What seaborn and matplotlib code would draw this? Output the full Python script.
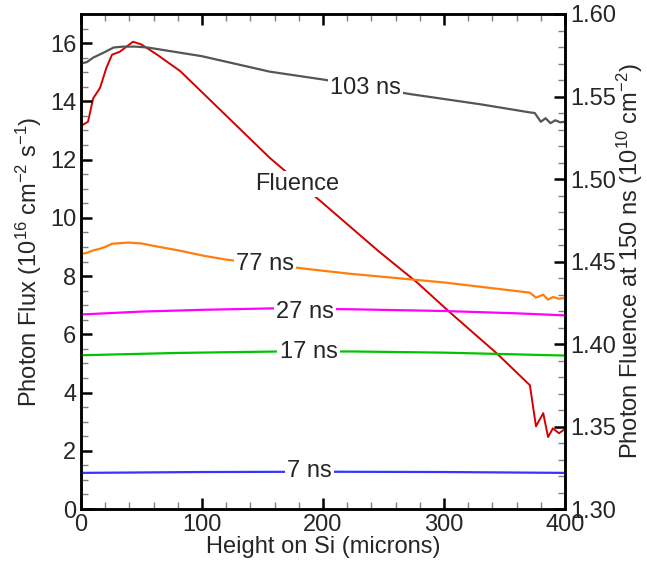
import pandas as pd
import matplotlib
matplotlib.use("Agg")
import matplotlib.pyplot as plt
import seaborn as sns
from matplotlib.ticker import MultipleLocator, FormatStrFormatter

sns.set_theme(style="ticks")
plt.rcParams['font.family'] = ['Liberation Sans', 'DejaVu Sans']
plt.rcParams['mathtext.fontset'] = 'custom'
plt.rcParams['mathtext.rm'] = 'Liberation Sans'
plt.rcParams['mathtext.it'] = 'Liberation Sans:italic'
plt.rcParams.update({'axes.edgecolor': 'black', 'axes.linewidth': 1.8})

# ---- data ----
x_103 = [0, 5, 10, 15, 20, 27, 35, 45, 55, 70, 100, 156, 200, 272, 330, 371, 375, 380, 384, 388, 392, 396, 400]
y_103 = [15.3, 15.35, 15.5, 15.6, 15.7, 15.85, 15.88, 15.88, 15.85, 15.75, 15.55, 15.02, 14.75, 14.25, 13.9, 13.62, 13.6, 13.3, 13.42, 13.25, 13.35, 13.28, 13.3]

x_77 = [0, 5, 10, 15.7, 20, 25.6, 39, 50, 59.5, 82, 101, 120.7, 183.5, 222, 300, 371, 376, 382, 386, 390, 395, 400]
y_77 = [8.75, 8.8, 8.88, 8.94, 9.0, 9.11, 9.15, 9.12, 9.04, 8.87, 8.7, 8.56, 8.26, 8.08, 7.78, 7.43, 7.26, 7.36, 7.19, 7.28, 7.22, 7.25]

x_27 = [0, 50, 100, 158, 222, 300, 360, 400]
y_27 = [6.68, 6.78, 6.84, 6.89, 6.86, 6.8, 6.72, 6.65]

x_17 = [0, 80, 164, 225, 300, 400]
y_17 = [5.28, 5.36, 5.41, 5.41, 5.37, 5.27]

x_7 = [0, 100, 200, 300, 400]
y_7 = [1.24, 1.27, 1.28, 1.27, 1.24]

# fluence at 150 ns (10^10 cm^-2), right axis
x_fl = [0, 5.8, 10, 15.7, 21, 25.6, 32, 43, 50, 63, 82, 120, 156, 200, 245.5, 277.7, 305, 343.8, 371, 376, 382, 386, 390, 395, 400]
y_fl = [1.5322, 1.5347, 1.5488, 1.5552, 1.5674, 1.5753, 1.5771, 1.5832, 1.5815, 1.5753, 1.5654, 1.5384, 1.5128, 1.4853, 1.4565, 1.4373, 1.4191, 1.3942, 1.3750, 1.3501, 1.3581, 1.3436, 1.3489, 1.3459, 1.3485]

series = [("103 ns", x_103, y_103, "#555555"),
          ("77 ns", x_77, y_77, "#ff7f0e"),
          ("27 ns", x_27, y_27, "#ff00ff"),
          ("17 ns", x_17, y_17, "#00c400"),
          ("7 ns", x_7, y_7, "#3535ff")]

labels_pos = {"103 ns": (235, 14.45), "77 ns": (152, 8.43), "27 ns": (185, 6.78),
              "17 ns": (188, 5.38), "7 ns": (189, 1.30)}

fs = 17
fig, ax = plt.subplots(figsize=(6.47, 5.73), dpi=100)
fig.subplots_adjust(left=81/647, right=565/647, bottom=1-509/573, top=1-14/573)

for name, xs, ys, c in series:
    sns.lineplot(x=xs, y=ys, ax=ax, color=c, lw=1.6, zorder=2)
    tx, ty = labels_pos[name]
    ax.text(tx, ty, name, ha="center", va="center", fontsize=fs, zorder=5,
            bbox=dict(facecolor="white", edgecolor="none", pad=1.5))
ax.text(178.5, 11.17, "Fluence", ha="center", va="center", fontsize=fs, zorder=5,
        bbox=dict(facecolor="white", edgecolor="none", pad=1.5))

ax.set_xlim(0, 400)
ax.set_ylim(0, 17)
ax.xaxis.set_major_locator(MultipleLocator(100))
ax.xaxis.set_minor_locator(MultipleLocator(20))
ax.yaxis.set_major_locator(MultipleLocator(2))
ax.yaxis.set_minor_locator(MultipleLocator(0.5))

ax2 = ax.twinx()
sns.lineplot(x=x_fl, y=y_fl, ax=ax2, color="#d40000", lw=1.4, zorder=2)
ax2.set_ylim(1.30, 1.60)
ax2.yaxis.set_major_locator(MultipleLocator(0.05))
ax2.yaxis.set_minor_locator(MultipleLocator(0.01))
ax2.yaxis.set_major_formatter(FormatStrFormatter('%.2f'))

ax.set_zorder(ax2.get_zorder() + 1)
ax.patch.set_visible(False)

ax.set_xlabel("Height on Si (microns)", fontsize=fs, labelpad=0)
ax.set_ylabel(r"Photon Flux (10$^{16}$ cm$^{-2}$ s$^{-1}$)", fontsize=fs, labelpad=4)
ax2.set_ylabel(r"Photon Fluence at 150 ns (10$^{10}$ cm$^{-2}$)", fontsize=fs, labelpad=-1)

# ticks: inward, on all four sides, set last
ax.tick_params(axis='x', which='both', bottom=True, top=True, direction='in')
ax.tick_params(axis='y', which='both', left=True, right=False, direction='in')
ax2.tick_params(axis='y', which='both', right=True, left=False, direction='in')
for a in (ax, ax2):
    a.tick_params(which='major', length=8, width=1.8, color='black', labelsize=fs)
    a.tick_params(which='minor', length=5, width=1.0, color='#808080')

fig.savefig("out.png", dpi=100)
